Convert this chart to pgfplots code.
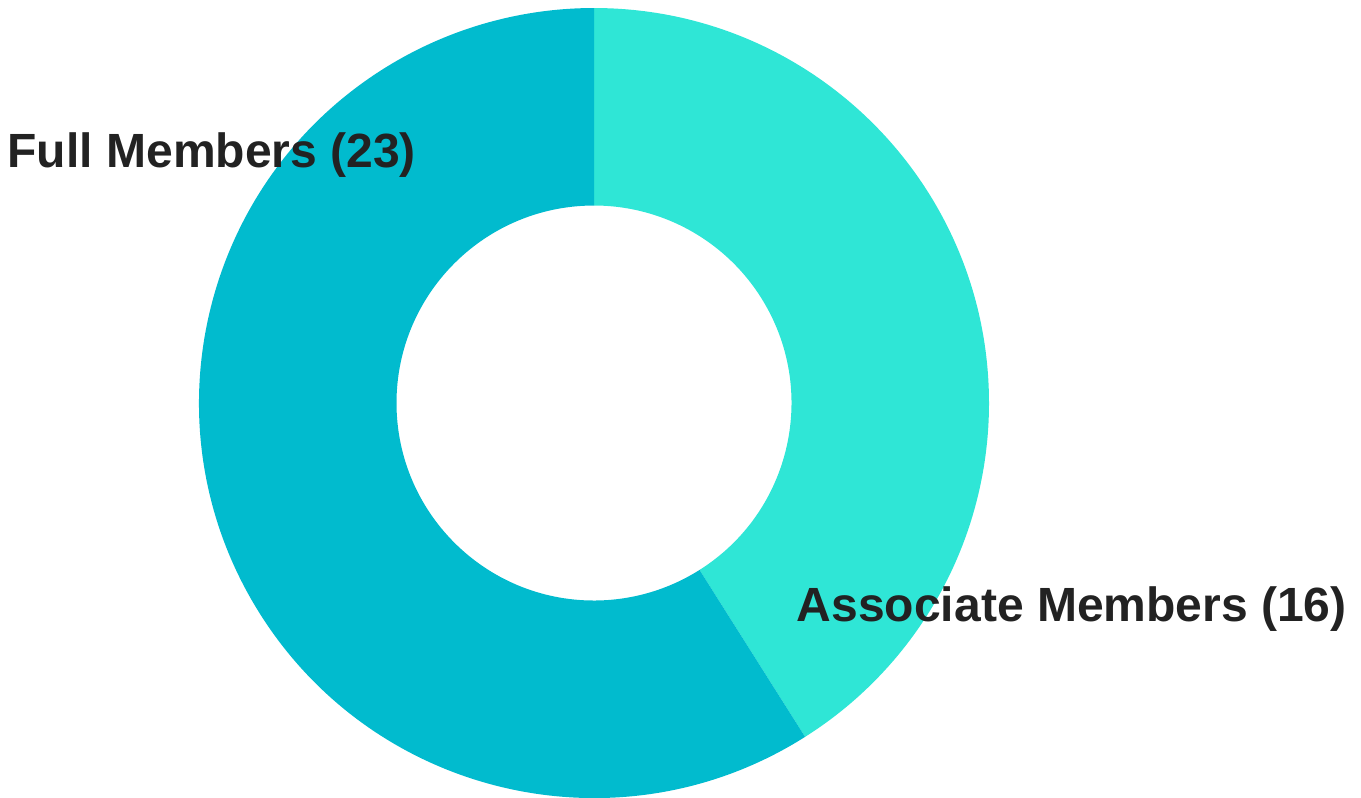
\documentclass[border=0pt]{standalone}
\usepackage{pgfplots}
\pgfplotsset{compat=1.18}
\usepackage{pgfplotstable}
\usepackage{fontspec}
\setmainfont{Liberation Sans}

\definecolor{assoc}{RGB}{47,230,214}
\definecolor{full}{RGB}{1,187,206}
\definecolor{txt}{RGB}{34,34,34}

% member counts
\pgfplotstableread{
label count
Associate 16
Full 23
}\members

\begin{document}
\begin{tikzpicture}
\pgfplotstablegetelem{0}{count}\of\members \let\nassoc\pgfplotsretval
\pgfplotstablegetelem{1}{count}\of\members \let\nfull\pgfplotsretval
\pgfmathsetmacro\total{\nassoc+\nfull}
\pgfmathsetmacro\split{90-360*\nassoc/\total}
\pgfmathsetmacro\fullend{\split-360*\nfull/\total}
\begin{axis}[
  x=5cm, y=5cm,
  hide axis,
  clip=false,
  xmin=-1.5038, xmax=1.9418,
  ymin=-0.9975, ymax=1.0203,
]
\coordinate (ll) at (rel axis cs:0,0);
\coordinate (ur) at (rel axis cs:1,1);
% associate slice: clockwise from 12 o'clock
\fill[assoc] (axis cs:0,1) arc[start angle=90, end angle=\split, radius=5cm]
  -- (axis cs:{0.5*cos(\split)},{0.5*sin(\split)})
  arc[start angle=\split, end angle=90, radius=2.5cm] -- cycle;
% full slice
\fill[full] (axis cs:{cos(\split)},{sin(\split)}) arc[start angle=\split, end angle=\fullend, radius=5cm]
  -- (axis cs:0,0.5)
  arc[start angle=\fullend, end angle=\split, radius=2.5cm] -- cycle;
\node[anchor=base west, inner sep=0, text=txt, font=\fontsize{17.3}{20}\selectfont\bfseries]
  at (axis cs:-1.486,0.5975) {Full Members (23)};
\node[anchor=base west, inner sep=0, text=txt, font=\fontsize{17.3}{20}\selectfont\bfseries]
  at (axis cs:0.512,-0.5519) {Associate Members (16)};
\end{axis}
\pgfresetboundingbox
\path (ll) rectangle (ur);
\end{tikzpicture}
\end{document}
